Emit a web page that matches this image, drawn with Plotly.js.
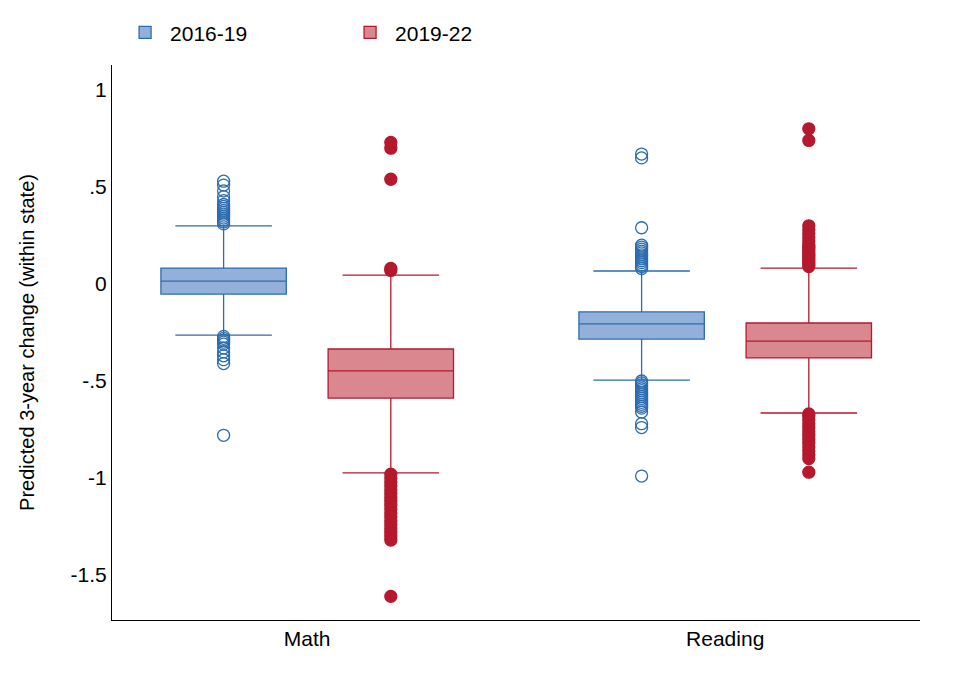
<!DOCTYPE html>
<html><head><script src="https://cdn.plot.ly/plotly-3.0.1.min.js"></script>
<style>body{margin:0;background:#fff}</style></head>
<body><div id="c" style="width:968px;height:684px"></div>
<script>
const categories = ["Math", "Reading"];
const series = ["2016-19", "2019-22"];
// [Math, Reading] stats per series
const q1 = {"2016-19": [-0.052, -0.284], "2019-22": [-0.588, -0.381]};
const median = {"2016-19": [0.015, -0.206], "2019-22": [-0.448, -0.294]};
const q3 = {"2016-19": [0.082, -0.144], "2019-22": [-0.335, -0.201]};
const lowerWhisker = {"2016-19": [-0.263, -0.495], "2019-22": [-0.974, -0.665]};
const upperWhisker = {"2016-19": [0.30, 0.067], "2019-22": [0.046, 0.082]};
const outliers = {
  "2016-19": [
    [0.31,0.32,0.33,0.34,0.35,0.36,0.37,0.38,0.39,0.40,0.41,0.43,0.45,0.48,0.51,0.53,-0.27,-0.28,-0.29,-0.30,-0.31,-0.33,-0.35,-0.37,-0.39,-0.41,-0.78],
    [0.08,0.09,0.10,0.11,0.12,0.13,0.14,0.15,0.16,0.17,0.18,0.19,0.20,0.29,0.65,0.67,-0.50,-0.51,-0.52,-0.53,-0.54,-0.55,-0.56,-0.57,-0.58,-0.59,-0.60,-0.61,-0.62,-0.63,-0.64,-0.66,-0.72,-0.74,-0.99]
  ],
  "2019-22": [
    [0.07,0.08,0.54,0.70,0.73,-0.98,-1.0,-1.02,-1.04,-1.06,-1.08,-1.10,-1.12,-1.14,-1.16,-1.18,-1.20,-1.22,-1.24,-1.26,-1.28,-1.30,-1.32,-1.61],
    [0.09,0.10,0.11,0.12,0.13,0.14,0.15,0.16,0.17,0.18,0.19,0.20,0.22,0.24,0.26,0.28,0.30,0.74,0.80,-0.67,-0.68,-0.70,-0.72,-0.74,-0.76,-0.78,-0.80,-0.82,-0.84,-0.86,-0.88,-0.90,-0.97]
  ]
};
const yTicks = [1, 0.5, 0, -0.5, -1, -1.5];
const yTickLabels = ["1", ".5", "0", "-.5", "-1", "-1.5"];

const style = {
  "2016-19": {line: "#2b6cb0", fill: "#92b0d9", sym: "circle-open", off: -0.2},
  "2019-22": {line: "#b5192d", fill: "#d98890", sym: "circle", off: 0.2}
};
const catPos = categories.map((c, i) => i + 1);
const traces = [];
series.forEach(s => {
  const st = style[s];
  const xs = catPos.map(p => p + st.off);
  traces.push({type: "box", name: s, x: xs, q1: q1[s], median: median[s], q3: q3[s],
    lowerfence: lowerWhisker[s], upperfence: upperWhisker[s], width: 0.3, whiskerwidth: 0.77,
    fillcolor: st.fill, line: {color: st.line, width: 1.3}, boxpoints: false, hoverinfo: "skip"});
  const ox = [], oy = [];
  outliers[s].forEach((arr, i) => arr.forEach(v => { ox.push(xs[i]); oy.push(v); }));
  traces.push({type: "scatter", mode: "markers", x: ox, y: oy, showlegend: false,
    marker: {symbol: st.sym, size: 12, color: st.line, line: {color: st.line, width: 1.3}}});
});
Plotly.newPlot("c", traces, {
  width: 968, height: 684, margin: {l: 112, r: 48, t: 65, b: 64, autoexpand: false},
  paper_bgcolor: "#fff", plot_bgcolor: "#fff",
  font: {family: "Liberation Sans, Arial, sans-serif", color: "#000"},
  showlegend: true,
  legend: {orientation: "h", x: 0.01, y: 1.058, xanchor: "left", yanchor: "middle", font: {size: 21},
    itemwidth: 40, entrywidth: 170},
  xaxis: {range: [0.533, 2.466], tickvals: catPos, ticktext: categories, showgrid: false, zeroline: false,
    showline: true, linecolor: "#000", ticks: "", tickfont: {size: 21}},
  yaxis: {range: [-1.732, 1.129], tickvals: yTicks, ticktext: yTickLabels, showgrid: false, zeroline: false,
    showline: true, linecolor: "#000", ticks: "", tickfont: {size: 21},
    title: {text: "Predicted 3-year change (within state)", font: {size: 20}, standoff: 30}}
}, {displayModeBar: false});
</script></body></html>
